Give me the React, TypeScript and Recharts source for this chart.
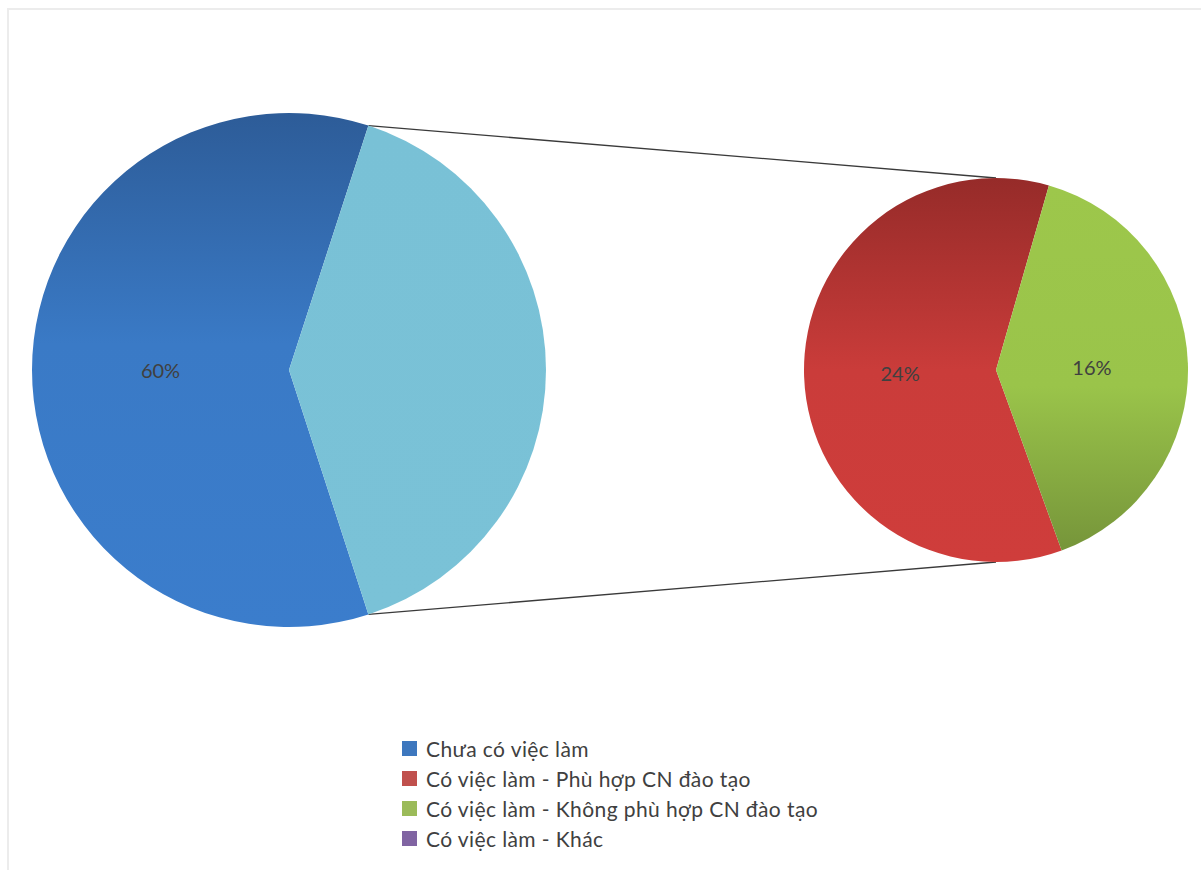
import React from 'react';
import { PieChart, Pie, Cell, Customized } from 'recharts';

const mainCategories = ['Chưa có việc làm', 'Có việc làm'];
const mainValues = [60, 40];
const subCategories = ['Có việc làm - Phù hợp CN đào tạo', 'Có việc làm - Không phù hợp CN đào tạo'];
const subValues = [24, 16];
const legendLabels = [
  'Chưa có việc làm',
  'Có việc làm - Phù hợp CN đào tạo',
  'Có việc làm - Không phù hợp CN đào tạo',
  'Có việc làm - Khác',
];
const legendColors = ['#3D77BE', '#C0504D', '#9BBB59', '#8064A2'];

const mainData = mainCategories.map((name, i) => ({ name, value: mainValues[i] }));
const subData = subCategories.map((name, i) => ({ name, value: subValues[i] }));

const W = 1201;
const H = 870;
const L = { cx: 289, cy: 370, r: 257, start: 72 };
const R = { cx: 996, cy: 370, r: 192, start: 74 };
const FONT = 'Lato, "Open Sans", sans-serif';

const mainFills = ['url(#gBlue)', 'url(#gLight)'];
const subFills = ['url(#gRed)', 'url(#gGreen)'];

const RAD = Math.PI / 180;

const makeLabel = (show: boolean[]) => (props: any) => {
  const { cx, cy, midAngle, outerRadius, index, value } = props;
  if (!show[index]) return null;
  const rr = outerRadius * 0.5;
  const x = cx + rr * Math.cos(-midAngle * RAD);
  const y = cy + rr * Math.sin(-midAngle * RAD);
  return (
    <text x={x} y={y} textAnchor="middle" dominantBaseline="central" fill="#404040" fontSize={20} fontFamily={FONT}>
      {`${value}%`}
    </text>
  );
};

const Connectors = () => {
  const a1 = L.start * RAD;
  const p1 = { x: L.cx + L.r * Math.cos(a1), y: L.cy - L.r * Math.sin(a1) };
  const p2 = { x: L.cx + L.r * Math.cos(a1), y: L.cy + L.r * Math.sin(a1) };
  const q1 = { x: R.cx, y: R.cy - R.r };
  const q2 = { x: R.cx, y: R.cy + R.r };
  return (
    <g>
      <line x1={p1.x} y1={p1.y} x2={q1.x} y2={q1.y} stroke="#3a3a3a" strokeWidth={1.3} />
      <line x1={p2.x} y1={p2.y} x2={q2.x} y2={q2.y} stroke="#3a3a3a" strokeWidth={1.3} />
    </g>
  );
};

export default function App() {
  return (
    <div style={{ position: 'absolute', left: 0, top: 0, width: W, height: H, background: '#fff' }}>
      <div style={{ position: 'absolute', left: 7, top: 8, width: W - 7, height: H - 8, borderLeft: '2px solid #ECECEC', borderTop: '2px solid #ECECEC', boxSizing: 'border-box' }} />
      <div style={{ position: 'absolute', left: 0, top: 0 }}>
        <PieChart width={W} height={H} margin={{ top: 0, right: 0, bottom: 0, left: 0 }}>
          <defs>
            <linearGradient id="gBlue" x1="0" y1="0" x2="0" y2="1">
              <stop offset="0" stopColor="#2D5C98" />
              <stop offset="0.45" stopColor="#3A7AC6" />
              <stop offset="1" stopColor="#3B7DCC" />
            </linearGradient>
            <linearGradient id="gLight" x1="0" y1="0" x2="0" y2="1">
              <stop offset="0" stopColor="#79C1D6" />
              <stop offset="1" stopColor="#7AC2D7" />
            </linearGradient>
            <linearGradient id="gRed" x1="0" y1="0" x2="0" y2="1">
              <stop offset="0" stopColor="#962B29" />
              <stop offset="0.5" stopColor="#CA3C3A" />
              <stop offset="1" stopColor="#CF3D3B" />
            </linearGradient>
            <linearGradient id="gGreen" x1="0" y1="0" x2="0" y2="1">
              <stop offset="0" stopColor="#9DC74B" />
              <stop offset="0.55" stopColor="#9AC44A" />
              <stop offset="1" stopColor="#76953A" />
            </linearGradient>
          </defs>
          <Pie
            data={mainData}
            dataKey="value"
            cx={L.cx}
            cy={L.cy}
            outerRadius={L.r}
            startAngle={L.start}
            endAngle={L.start + 360}
            stroke="none"
            isAnimationActive={false}
            labelLine={false}
            label={makeLabel([true, false])}
          >
            {mainData.map((d, i) => (
              <Cell key={d.name} fill={mainFills[i]} />
            ))}
          </Pie>
          <Pie
            data={subData}
            dataKey="value"
            cx={R.cx}
            cy={R.cy}
            outerRadius={R.r}
            startAngle={R.start}
            endAngle={R.start + 360}
            stroke="none"
            isAnimationActive={false}
            labelLine={false}
            label={makeLabel([true, true])}
          >
            {subData.map((d, i) => (
              <Cell key={d.name} fill={subFills[i]} />
            ))}
          </Pie>
          <Customized component={Connectors} />
        </PieChart>
      </div>
      <div style={{ position: 'absolute', left: 402, top: 733, fontFamily: FONT, fontSize: 21, letterSpacing: 0.4, color: '#404040' }}>
        {legendLabels.map((lab, i) => (
          <div key={lab} style={{ display: 'flex', alignItems: 'center', height: 30 }}>
            <span style={{ display: 'inline-block', width: 15, height: 15, background: legendColors[i], marginRight: 9 }} />
            <span>{lab}</span>
          </div>
        ))}
      </div>
    </div>
  );
}
